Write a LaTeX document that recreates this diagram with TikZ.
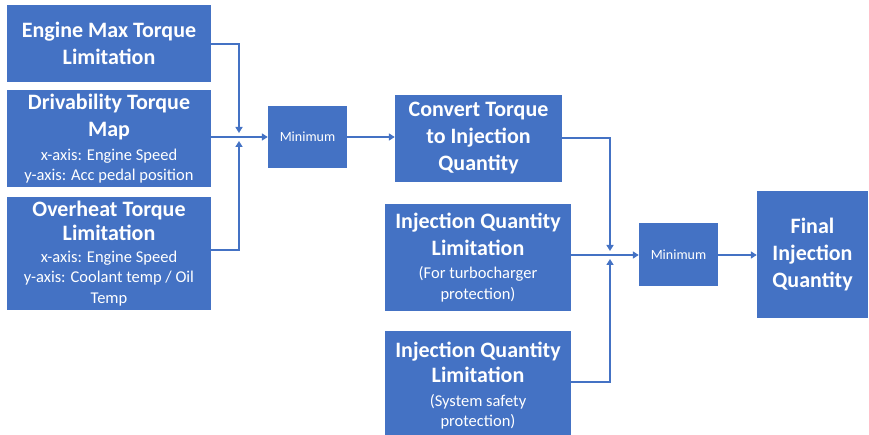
\documentclass[tikz,border=0pt]{standalone}
\usepackage{fontspec}
\setmainfont{Carlito}
\usetikzlibrary{arrows.meta,calc}
\definecolor{boxblue}{HTML}{4472C4}
\tikzset{
  block/.style={fill=boxblue, draw=none, text=white, align=center, inner sep=0pt,
    font=\fontsize{22}{27}\selectfont\bfseries},
  minbox/.style={fill=boxblue, draw=none, text=white, align=center, inner sep=0pt,
    font=\fontsize{14}{17}\selectfont},
  link/.style={draw=boxblue, line width=2pt},
  arr/.style={link, -{Triangle[length=6pt,width=7pt]}},
}
\newcommand{\subfont}{\fontsize{16.5}{20.5}\selectfont\mdseries}
\begin{document}
\begin{tikzpicture}[x=1pt,y=-1pt]
\useasboundingbox (0,0) rectangle (869,435);

% torque sources
\node[block, minimum width=204pt, minimum height=77pt] (A) at (109,43.5)
  {Engine Max Torque\\Limitation};
\node[block, minimum width=204pt, minimum height=97pt] (B) at (109,138.5)
  {Drivability Torque\\Map\\[-3pt]\subfont x-axis: Engine Speed\\[-6.5pt]\subfont y-axis: Acc pedal position};
\node[block, minimum width=204pt, minimum height=113pt] (C) at (109,253.5)
  {Overheat Torque\\[-3pt]Limitation\\[-5pt]\subfont x-axis: Engine Speed\\[-6.5pt]\subfont y-axis: Coolant temp / Oil\\[-6.5pt]\subfont Temp};

% first minimum selection
\node[minbox, minimum width=79pt, minimum height=62pt] (M1) at (307.5,137) {Minimum};
\node[block, minimum width=167pt, minimum height=87pt] (Conv) at (478.5,138.5)
  {Convert Torque\\to Injection\\Quantity};

% injection quantity limits
\node[block, minimum width=186pt, minimum height=106pt] (T) at (478,257.5)
  {Injection Quantity\\Limitation\\[-4pt]\subfont (For turbocharger\\[-6.5pt]\subfont protection)};
\node[block, minimum width=186pt, minimum height=111pt] (S) at (478,386)
  {Injection Quantity\\[-2pt]Limitation\\[-3pt]\subfont (System safety\\[-7pt]\subfont protection)};

% second minimum selection and result
\node[minbox, minimum width=79pt, minimum height=63pt] (M2) at (678.5,254.5) {Minimum};
\node[block, minimum width=111pt, minimum height=127pt] (F) at (812.5,254.5)
  {Final\\Injection\\Quantity};

% junctions
\coordinate (j1) at (239,137);
\coordinate (j2) at (610,255);

\draw[arr] (A.east |- 0,44) -| ($(j1)+(0,-4)$);
\draw[arr] (C.east |- 0,250) -| ($(j1)+(0,4)$);
\draw[arr] (B.east |- j1) -- (M1.west |- j1);
\draw[arr] (M1.east |- j1) -- (Conv.west |- j1);

\draw[arr] (Conv.east |- 0,138) -| ($(j2)+(0,-4)$);
\draw[arr] (S.east |- 0,382) -| ($(j2)+(0,4)$);
\draw[arr] (T.east |- j2) -- (M2.west |- j2);
\draw[arr] (M2.east |- j2) -- (F.west |- j2);
\end{tikzpicture}
\end{document}
